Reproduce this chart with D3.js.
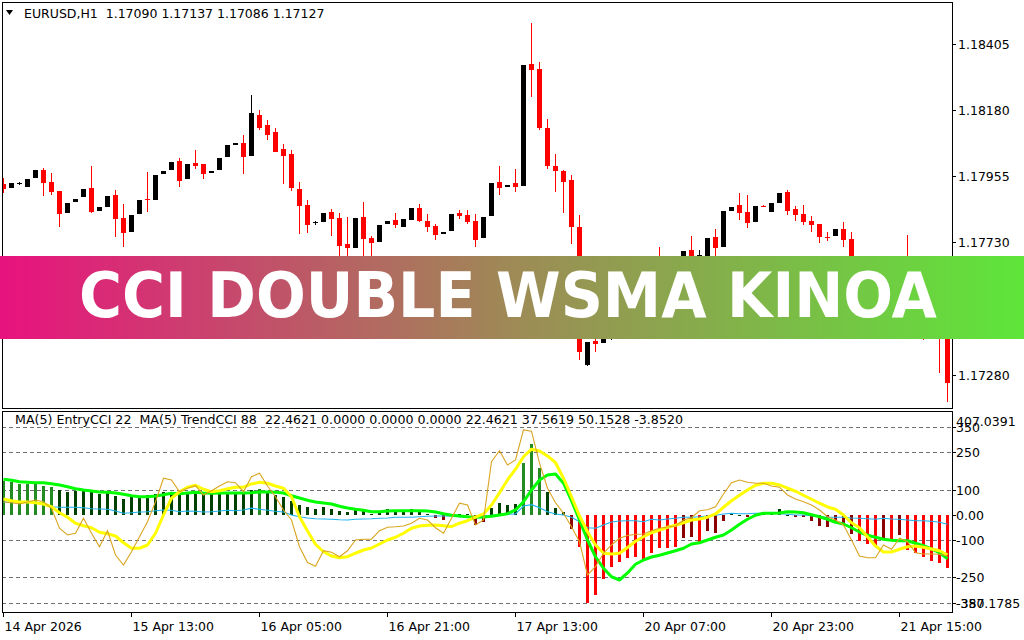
<!DOCTYPE html>
<html><head><meta charset="utf-8">
<script src="https://cdn.jsdelivr.net/npm/d3@7"></script>
<style>body{margin:0;background:#fff}svg{display:block}text{font-family:"DejaVu Sans",sans-serif;white-space:pre}</style>
</head><body><svg id="c" width="1024" height="640"></svg>
<script>
const symbolHeader = "EURUSD,H1  1.17090 1.17137 1.17086 1.17127";
const subHeader = "MA(5) EntryCCI 22  MA(5) TrendCCI 88  22.4621 0.0000 0.0000 0.0000 22.4621 37.5619 50.1528 -3.8520";
const bannerTitle = "CCI DOUBLE WSMA KINOA";

const openP = [1.17929,1.17915,1.17929,1.17919,1.17949,1.17977,1.17936,1.17905,1.17830,1.17868,
1.17885,1.17915,1.17837,1.17851,1.17892,1.17813,1.17766,1.17827,1.17878,1.17875,
1.17963,1.17977,1.18007,1.17946,1.18000,1.17997,1.17966,1.17977,1.18021,1.18062,
1.18068,1.18024,1.18164,1.18130,1.18106,1.18048,1.18031,1.17912,1.17858,1.17796,
1.17800,1.17834,1.17813,1.17725,1.17711,1.17817,1.17745,1.17732,1.17793,1.17807,
1.17783,1.17807,1.17847,1.17803,1.17786,1.17759,1.17769,1.17830,1.17824,1.17803,
1.17745,1.17820,1.17936,1.17919,1.17932,1.17922,1.18337,1.18320,1.18119,1.17990,
1.17973,1.17943,1.17783,1.17314,1.17395,1.17388,1.17405,1.17460,1.17439,1.17518,
1.17558,1.17535,1.17630,1.17586,1.17637,1.17664,1.17705,1.17664,1.17681,1.17749,
1.17715,1.17837,1.17858,1.17834,1.17800,1.17854,1.17834,1.17864,1.17902,1.17844,
1.17827,1.17803,1.17793,1.17749,1.17752,1.17776,1.17742,1.17664,1.17620,1.17643,
1.17586,1.17609,1.17562,1.17592,1.17541,1.17501,1.17439,1.17467,1.17412];
const highP = [1.17949,1.17932,1.17936,1.17946,1.17977,1.17983,1.17966,1.17905,1.17864,1.17878,
1.17912,1.17990,1.17851,1.17888,1.17909,1.17861,1.17824,1.17875,1.17970,1.17960,
1.17973,1.18004,1.18017,1.17997,1.18045,1.17997,1.17973,1.18017,1.18062,1.18068,
1.18096,1.18232,1.18181,1.18147,1.18119,1.18065,1.18045,1.17936,1.17875,1.17803,
1.17830,1.17844,1.17830,1.17817,1.17813,1.17868,1.17752,1.17790,1.17803,1.17830,
1.17810,1.17847,1.17861,1.17827,1.17793,1.17766,1.17827,1.17841,1.17841,1.17827,
1.17817,1.17932,1.17990,1.17926,1.17980,1.18334,1.18476,1.18344,1.18150,1.18031,
1.17977,1.17960,1.17824,1.17392,1.17405,1.17416,1.17473,1.17484,1.17535,1.17569,
1.17586,1.17620,1.17715,1.17654,1.17677,1.17701,1.17752,1.17705,1.17745,1.17776,
1.17837,1.17851,1.17898,1.17892,1.17854,1.17858,1.17864,1.17898,1.17909,1.17854,
1.17858,1.17820,1.17793,1.17766,1.17776,1.17800,1.17766,1.17677,1.17654,1.17664,
1.17630,1.17620,1.17603,1.17756,1.17562,1.17518,1.17460,1.17484,1.17433];
const lowP = [1.17898,1.17915,1.17926,1.17919,1.17949,1.17888,1.17892,1.17783,1.17830,1.17868,
1.17885,1.17830,1.17837,1.17851,1.17749,1.17715,1.17766,1.17827,1.17834,1.17875,
1.17963,1.17977,1.17919,1.17946,1.17980,1.17946,1.17966,1.17977,1.18021,1.18062,
1.17963,1.18024,1.18113,1.18079,1.18038,1.17929,1.17905,1.17759,1.17762,1.17790,
1.17800,1.17752,1.17664,1.17664,1.17711,1.17654,1.17664,1.17732,1.17793,1.17779,
1.17783,1.17807,1.17800,1.17766,1.17739,1.17759,1.17769,1.17810,1.17793,1.17715,
1.17745,1.17820,1.17892,1.17919,1.17902,1.17922,1.18225,1.18113,1.17980,1.17902,
1.17830,1.17725,1.17331,1.17310,1.17358,1.17388,1.17399,1.17433,1.17433,1.17507,
1.17518,1.17528,1.17569,1.17575,1.17620,1.17654,1.17643,1.17654,1.17664,1.17664,
1.17715,1.17837,1.17807,1.17779,1.17800,1.17851,1.17834,1.17864,1.17824,1.17803,
1.17790,1.17766,1.17728,1.17735,1.17752,1.17715,1.17637,1.17603,1.17609,1.17569,
1.17575,1.17541,1.17552,1.17535,1.17484,1.17399,1.17412,1.17286,1.17188];
const closeP = [1.17912,1.17932,1.17932,1.17946,1.17977,1.17932,1.17902,1.17827,1.17864,1.17878,
1.17912,1.17834,1.17851,1.17888,1.17810,1.17762,1.17824,1.17875,1.17875,1.17960,
1.17973,1.18004,1.17939,1.17997,1.17990,1.17963,1.17973,1.18017,1.18062,1.18068,
1.18021,1.18170,1.18119,1.18096,1.18038,1.18024,1.17915,1.17854,1.17790,1.17800,
1.17830,1.17810,1.17718,1.17711,1.17813,1.17742,1.17728,1.17790,1.17803,1.17790,
1.17810,1.17847,1.17803,1.17783,1.17756,1.17766,1.17827,1.17820,1.17800,1.17739,
1.17817,1.17932,1.17915,1.17926,1.17919,1.18334,1.18317,1.18119,1.17990,1.17973,
1.17936,1.17783,1.17358,1.17392,1.17385,1.17405,1.17460,1.17439,1.17518,1.17558,
1.17535,1.17603,1.17586,1.17637,1.17664,1.17701,1.17664,1.17688,1.17745,1.17711,
1.17837,1.17851,1.17830,1.17796,1.17854,1.17854,1.17864,1.17898,1.17837,1.17824,
1.17800,1.17790,1.17749,1.17749,1.17776,1.17739,1.17664,1.17620,1.17643,1.17586,
1.17609,1.17562,1.17592,1.17541,1.17501,1.17439,1.17426,1.17416,1.17252];

const histogram = [137,132,125,125,125,117,112,99,93,97,
96,92,85,87,76,65,71,71,79,84,
92,85,85,89,89,85,83,88,83,85,
91,99,102,89,80,72,56,40,33,24,
31,24,15,12,23,16,3,12,23,16,
13,24,16,3,-13,-20,-2,3,2,-40,
-28,27,48,40,44,208,284,187,91,29,
12,-55,-127,-353,-319,-255,-207,-187,-171,-167,
-183,-153,-133,-133,-127,-93,-87,-107,-63,-73,
-23,4,1,-9,4,12,12,23,1,-7,
-9,-23,-43,-47,-27,-36,-77,-103,-116,-120,
-93,-103,-80,-140,-153,-169,-183,-191,-213];
const trendMA = [143,139,133,131,129,129,125,120,113,105,
100,96,92,91,88,83,77,73,73,76,
81,87,85,88,91,88,87,88,88,88,
88,89,92,92,91,88,77,68,59,52,
48,44,35,28,23,19,13,13,16,17,
17,17,17,16,12,5,-1,-4,-7,-9,
-8,-5,0,5,20,53,100,140,160,164,
127,57,-20,-100,-167,-213,-247,-260,-232,-197,
-180,-168,-161,-152,-143,-133,-116,-111,-100,-89,
-80,-60,-37,-17,-1,7,7,8,13,12,
9,1,-7,-17,-29,-36,-51,-68,-81,-89,
-97,-101,-103,-103,-113,-123,-136,-151,-175];
const entryMA = [64,57,52,52,49,44,33,9,-9,-33,
-43,-51,-69,-75,-84,-111,-133,-133,-120,-73,
0,67,93,111,119,103,93,97,105,111,
111,124,131,127,116,107,73,-7,-64,-117,
-147,-164,-171,-167,-153,-140,-132,-116,-100,-89,
-73,-53,-44,-41,-40,-43,-47,-33,-23,-9,
4,40,89,140,183,233,263,256,236,209,
147,73,-4,-67,-120,-153,-156,-153,-130,-105,
-87,-71,-60,-49,-41,-31,-20,-16,-9,4,
31,57,79,100,119,127,127,120,107,95,
79,63,47,32,23,0,-31,-51,-87,-124,
-148,-148,-137,-127,-124,-129,-136,-143,-159];
const entryCCI = [52,49,44,52,60,53,27,-53,-80,-73,
-13,-73,-127,-63,-160,-200,-147,-87,-27,53,
147,140,93,107,117,80,97,116,133,129,
93,153,167,116,73,20,-20,-127,-190,-205,
-143,-149,-167,-143,-100,-97,-97,-63,-49,-47,
-44,-33,-13,-20,-51,-73,-13,47,40,-40,
-20,213,257,200,220,340,335,207,107,49,
7,-47,-107,-240,-207,-153,-120,-93,-82,-77,
-76,-63,-53,-48,-44,-20,-11,17,21,33,
84,129,140,131,127,127,116,111,80,64,
53,40,20,-7,-20,-40,-100,-164,-171,-171,
-120,-137,-93,-107,-151,-156,-156,-157,-164];
const trendCCI = [51,52,53,53,52,44,33,31,31,31,
29,25,24,23,16,7,9,12,13,17,
20,19,13,16,15,12,13,16,19,17,
20,27,23,19,15,12,0,-7,-12,-15,
-16,-17,-19,-20,-17,-16,-15,-13,-12,-9,
-9,-9,-7,-5,-4,-4,-4,-7,-8,-9,
-5,-1,1,3,4,36,41,29,13,4,
0,-9,-27,-51,-53,-40,-28,-24,-23,-23,
-27,-17,-20,-16,-13,-9,-9,-7,-4,-1,
4,7,5,5,7,7,7,5,3,0,
0,-3,-7,-9,-9,-9,-12,-13,-15,-17,
-13,-16,-17,-20,-23,-23,-25,-29,-37];

const priceTicks = [1.18405,1.18180,1.17955,1.17730,1.17280];
const cciLevels = [350,250,100,-100,-250,-350];
const cciTickValues = [350,250,100,0,-100,-250,-350];
const cciTickLabels = ["350","250","100","0.00","-100","-250","-350"];
const cciRange = [-387.1785, 407.0391];
const cciRangeLabels = ["-387.1785","407.0391"];
const timeTickBars = [0,16,32,48,64,80,96,112];
const timeTickLabels = ["14 Apr 2026","15 Apr 13:00","16 Apr 05:00","16 Apr 21:00","17 Apr 13:00","20 Apr 07:00","20 Apr 23:00","21 Apr 15:00"];

const svg = d3.select("#c");
const L = 2, R = 952, mainTop = 2, mainBot = 408, subTop = 411, subBot = 612;

const x = d3.scaleLinear().domain([0, 1]).range([3.5, 11.5]);
const yP = d3.scaleLinear().domain([1.17167, 1.18548]).range([mainBot, mainTop]);
const yC = d3.scaleLinear().domain(cciRange).range([611.8, 413.2]);

const defs = svg.append("defs");
defs.append("clipPath").attr("id","cm").append("rect").attr("x",L+1).attr("y",mainTop+1).attr("width",R-L-1).attr("height",mainBot-mainTop-1);
defs.append("clipPath").attr("id","cs").append("rect").attr("x",L+1).attr("y",subTop+1).attr("width",R-L-1).attr("height",subBot-subTop-1);
const grad = defs.append("linearGradient").attr("id","bg").attr("x1","0").attr("x2","1").attr("y1","0").attr("y2","0");
grad.append("stop").attr("offset","0").attr("stop-color","#e8127e");
grad.append("stop").attr("offset","0.5").attr("stop-color","#9e8a56");
grad.append("stop").attr("offset","1").attr("stop-color","#5ee63a");

// candles
const idx = d3.range(openP.length);
const gm = svg.append("g").attr("clip-path","url(#cm)");
idx.forEach(i => {
  const up = closeP[i] > openP[i];
  const col = up ? "#000000" : "#ff0000";
  const cx = x(i);
  const yh = Math.round(yP(highP[i])), yl = Math.round(yP(lowP[i]));
  gm.append("rect").attr("x",cx-0.5).attr("y",yh).attr("width",1).attr("height",Math.max(1,yl-yh)).attr("fill",col);
  const yt = Math.round(yP(Math.max(openP[i],closeP[i]))), yb = Math.round(yP(Math.min(openP[i],closeP[i])));
  gm.append("rect").attr("x",cx-2.5).attr("y",yt).attr("width",5).attr("height",Math.max(1,yb-yt)).attr("fill",col);
});

// sub panel
const gs = svg.append("g").attr("clip-path","url(#cs)");
cciLevels.forEach(v => {
  const yy = Math.round(yC(v)) + 0.5;
  gs.append("line").attr("x1",L).attr("x2",R).attr("y1",yy).attr("y2",yy)
    .attr("stroke","#707070").attr("stroke-width",1).attr("stroke-dasharray","4,3");
});
const y0 = Math.round(yC(0));
idx.forEach(i => {
  const v = histogram[i];
  const strong = Math.abs(v) > 100;
  const col = v >= 0 ? (strong ? "#228b22" : "#004000") : (strong ? "#ff0000" : "#8b0000");
  const yy = Math.round(yC(v));
  gs.append("rect").attr("x",x(i)-1.5).attr("width",3)
    .attr("y",Math.min(yy,y0)).attr("height",Math.max(1,Math.abs(yy-y0))).attr("fill",col);
});
const line = arr => d3.line().x((d,i)=>x(i)).y(d=>yC(d))(arr);
gs.append("path").attr("d",line(trendCCI)).attr("fill","none").attr("stroke","#1eb4f0").attr("stroke-width",1.2);
gs.append("path").attr("d",line(trendMA)).attr("fill","none").attr("stroke","#00ff00").attr("stroke-width",3).attr("stroke-linejoin","round");
gs.append("path").attr("d",line(entryMA)).attr("fill","none").attr("stroke","#ffff00").attr("stroke-width",3).attr("stroke-linejoin","round");
gs.append("path").attr("d",line(entryCCI)).attr("fill","none").attr("stroke","#daa520").attr("stroke-width",1.1);

// frames
svg.append("rect").attr("x",L+0.5).attr("y",mainTop+0.5).attr("width",R-L).attr("height",mainBot-mainTop).attr("fill","none").attr("stroke","#000");
svg.append("rect").attr("x",L+0.5).attr("y",subTop+0.5).attr("width",R-L).attr("height",subBot-subTop).attr("fill","none").attr("stroke","#000");

// headers
svg.append("path").attr("d","M6,10 L13,10 L9.5,15 Z").attr("fill","#000");
svg.append("text").attr("x",24).attr("y",18).attr("font-size",12.5).attr("fill","#000").text(symbolHeader);
svg.append("text").attr("x",15).attr("y",424).attr("font-size",12).attr("fill","#000")
  .attr("textLength",668).attr("lengthAdjust","spacingAndGlyphs").text(subHeader);

// price axis
priceTicks.forEach(p => {
  const yy = Math.round(yP(p));
  svg.append("line").attr("x1",R).attr("x2",R+4).attr("y1",yy+0.5).attr("y2",yy+0.5).attr("stroke","#000");
  svg.append("text").attr("x",958).attr("y",yy+5).attr("font-size",12.5).attr("fill","#000").text(p.toFixed(5));
});
// cci axis
cciTickValues.forEach((v,i) => {
  const yy = Math.round(yC(v));
  svg.append("line").attr("x1",R).attr("x2",R+4).attr("y1",yy+0.5).attr("y2",yy+0.5).attr("stroke","#000");
  svg.append("text").attr("x",956).attr("y",yy+5).attr("font-size",12.5).attr("fill","#000").text(cciTickLabels[i]);
});
svg.append("text").attr("x",956).attr("y",426).attr("font-size",12.5).attr("fill","#000").text(cciRangeLabels[1]);
svg.append("text").attr("x",956).attr("y",608).attr("font-size",12.5).attr("fill","#000").text(cciRangeLabels[0]);

// time axis
timeTickBars.forEach((b,i) => {
  const xx = Math.round(x(b)) - 0.5;
  svg.append("line").attr("x1",xx).attr("x2",xx).attr("y1",subBot).attr("y2",subBot+5).attr("stroke","#000");
  svg.append("text").attr("x",xx+1).attr("y",631).attr("font-size",12.5).attr("fill","#000").text(timeTickLabels[i]);
});

// banner
svg.append("rect").attr("x",0).attr("y",256).attr("width",1024).attr("height",83).attr("fill","url(#bg)");
svg.append("text").attr("x",508).attr("y",317).attr("text-anchor","middle")
  .attr("font-family","Inter,'Open Sans',sans-serif").attr("font-weight",600).attr("font-size",62)
  .attr("fill","#fff").attr("textLength",858).attr("lengthAdjust","spacingAndGlyphs").text(bannerTitle);
</script></body></html>
